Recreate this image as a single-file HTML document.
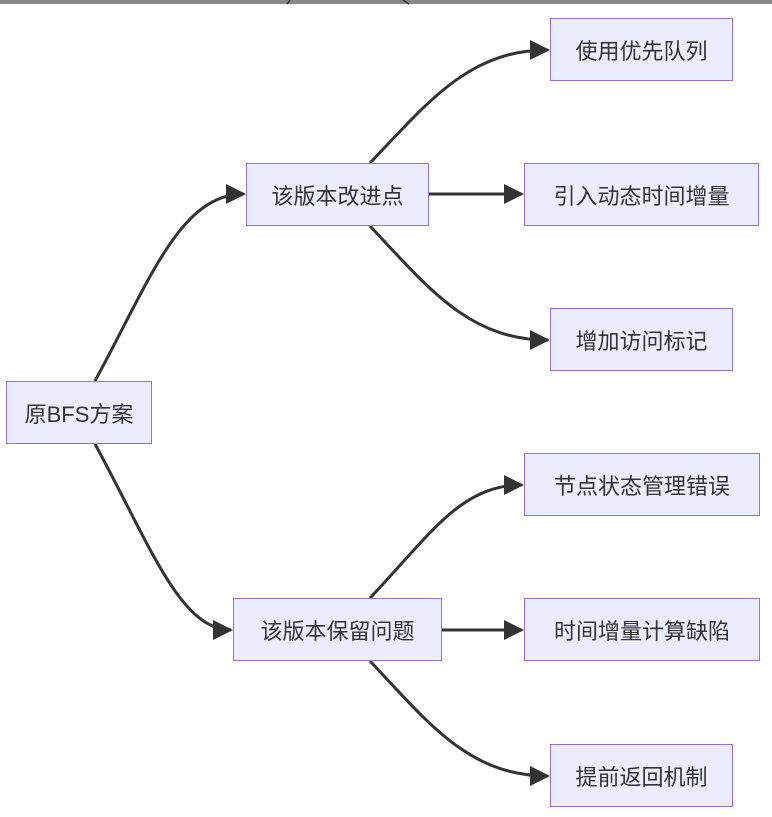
<!DOCTYPE html>
<html><head><meta charset="utf-8"><style>
body{margin:0;width:772px;height:817px;background:#fff;overflow:hidden;position:relative;font-family:"Liberation Sans","Noto Sans CJK SC",sans-serif}
.n{position:absolute;box-sizing:border-box;background:#ececff;border:1.5px solid #9370db;color:#333;font-size:22px;display:flex;align-items:center;justify-content:center;height:63px}
</style></head><body>
<div style="position:absolute;left:0;top:0;width:772px;height:4px;background:#888"></div>
<svg width="772" height="817" style="position:absolute;left:0;top:0">
<defs><marker id="a" viewBox="0 0 10 10" refX="9" refY="5" markerWidth="9" markerHeight="9" markerUnits="userSpaceOnUse" orient="auto"><path d="M0,0L10,5L0,10z" fill="#333"/></marker>
<marker id="b" viewBox="0 0 10 10" refX="9" refY="5" markerWidth="20" markerHeight="20" markerUnits="userSpaceOnUse" orient="auto"><path d="M0,0L10,5L0,10z" fill="#333"/></marker></defs>
<g fill="none" stroke="#333" stroke-width="3">
<path d="M287,4L290,0M403,0L409,4" stroke-width="1.5"/>
<path d="M95,381C150,280 180,194 244,194" marker-end="url(#b)"/>
<path d="M95,444C150,545 180,630 231,630" marker-end="url(#b)"/>
<path d="M370,163C430,100 470,50 548,50" marker-end="url(#b)"/>
<path d="M428,194L522,194" marker-end="url(#b)"/>
<path d="M370,226C430,290 470,340 548,340" marker-end="url(#b)"/>
<path d="M370,598C430,535 460,485 522,485" marker-end="url(#b)"/>
<path d="M441,630L522,630" marker-end="url(#b)"/>
<path d="M370,661C430,725 470,776 548,776" marker-end="url(#b)"/>
</g></svg>
<div class="n" style="left:6px;top:381px;width:146px">原BFS方案</div>
<div class="n" style="left:246px;top:163px;width:183px">该版本改进点</div>
<div class="n" style="left:233px;top:598px;width:209px">该版本保留问题</div>
<div class="n" style="left:550px;top:18px;width:183px">使用优先队列</div>
<div class="n" style="left:524px;top:163px;width:235px">引入动态时间增量</div>
<div class="n" style="left:550px;top:308px;width:183px">增加访问标记</div>
<div class="n" style="left:524px;top:453px;width:236px">节点状态管理错误</div>
<div class="n" style="left:524px;top:598px;width:236px">时间增量计算缺陷</div>
<div class="n" style="left:550px;top:744px;width:183px">提前返回机制</div>
</body></html>
